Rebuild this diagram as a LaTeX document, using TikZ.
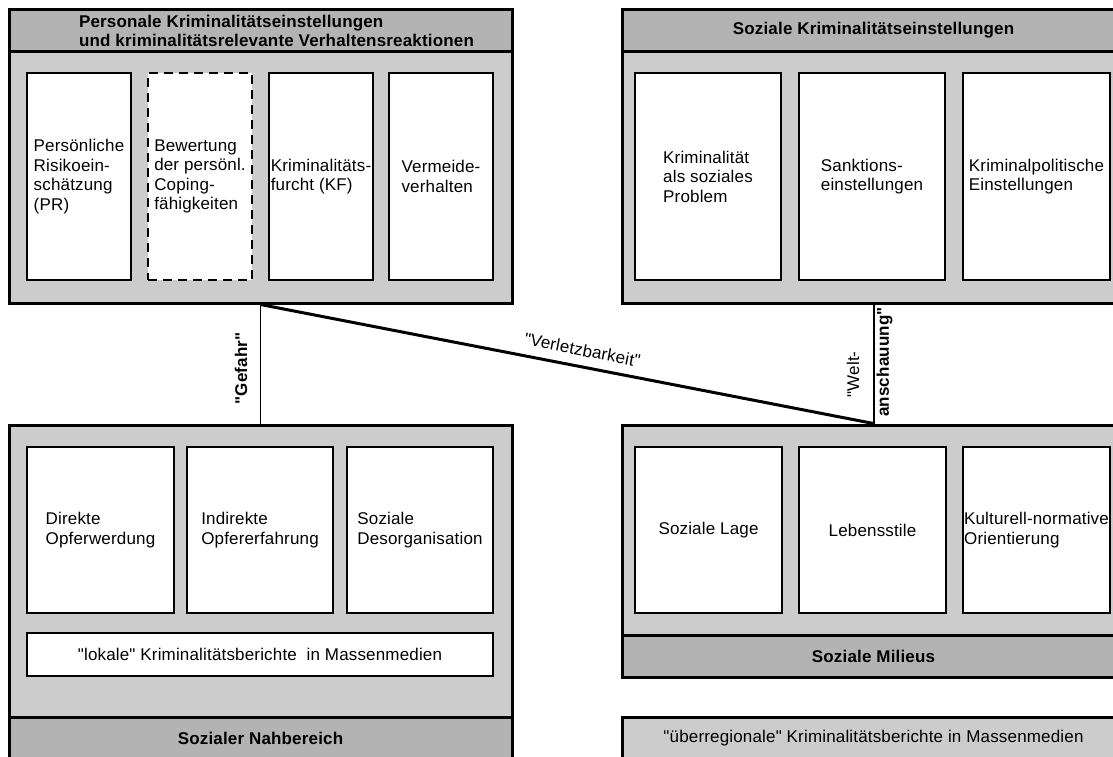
\documentclass[tikz,border=0pt]{standalone}
\usepackage{fontspec}
\setmainfont{Liberation Sans}[Ligatures=TeXOff, LetterSpace=1.0]
\definecolor{bodygray}{HTML}{CCCCCC}
\definecolor{headgray}{HTML}{B3B3B3}
\tikzset{
  base/.style={font=\fontsize{17}{19.5}\selectfont, inner sep=0pt},
  boldtext/.style={font=\fontsize{17}{19}\selectfont\bfseries},
  outerbox/.style={base, draw, line width=3pt, fill=bodygray},
  bandbox/.style={base, boldtext, draw, line width=3pt, fill=headgray},
  itembox/.style={base, draw, line width=2pt, fill=white, align=left},
  dashbox/.style={itembox, dash pattern=on 9pt off 6pt},
  lbl/.style={base},
  boldlbl/.style={base, boldtext},
}
\newcommand\rbox[7][]{\node[#1, minimum width={(#5-#3)*1pt}, minimum height={(#6-#4)*1pt}] (#2) at ({(#3+#5)/2},{(#4+#6)/2}) {#7};}
\begin{document}
\begin{tikzpicture}[x=1pt, y=-1pt]
\useasboundingbox (0,0) rectangle (1113,756);
\clip (0,0) rectangle (1113,756);
% top left
\rbox[outerbox]{tl}{9}{9}{512}{303}{}
\rbox[bandbox]{tlh}{9}{9}{512}{51}{}
\node[boldlbl, align=left] (tlht) at (276.5,30.5) {Personale Kriminalitätseinstellungen\\und kriminalitätsrelevante Verhaltensreaktionen};
\rbox[itembox]{pr}{27}{73}{131}{280}{Persönliche\\Risikoein-\\schätzung\\(PR)}
\rbox[dashbox]{cop}{148}{73}{252}{280}{Bewertung\\der persönl.\\Coping-\\fähigkeiten}
\rbox[itembox]{kf}{269}{73}{373}{280}{Kriminalitäts-\\furcht (KF)}
\rbox[itembox]{vm}{389}{73}{493}{280}{Vermeide-\\verhalten}
% top right
\rbox[outerbox]{tr}{622}{9}{1125}{303}{}
\rbox[bandbox]{trh}{622}{9}{1125}{51}{Soziale Kriminalitätseinstellungen}
\rbox[itembox]{ksp}{635}{73}{781}{280}{Kriminalität\\als soziales\\Problem}
\rbox[itembox]{san}{799}{73}{945}{280}{Sanktions-\\einstellungen}
\rbox[itembox]{kpe}{963}{73}{1110}{280}{Kriminalpolitische\\Einstellungen}
% bottom left
\rbox[outerbox]{bl}{9}{425}{512}{759}{}
\rbox[bandbox]{blf}{9}{717}{512}{759}{Sozialer Nahbereich}
\rbox[itembox]{dop}{27}{447}{174}{613}{Direkte\\Opferwerdung}
\rbox[itembox]{iop}{187}{447}{333}{613}{Indirekte\\Opfererfahrung}
\rbox[itembox]{sdo}{347}{447}{493}{613}{Soziale\\Desorganisation}
\rbox[itembox]{lok}{27}{633}{493}{676}{"lokale" Kriminalitätsberichte\ \ in Massenmedien}
% bottom right
\rbox[outerbox]{br}{622}{425}{1125}{677}{}
\rbox[bandbox]{brf}{622}{635}{1125}{677}{Soziale Milieus}
\rbox[itembox]{sl}{635}{447}{782}{613}{Soziale Lage}
\rbox[itembox]{ls}{799}{447}{946}{613}{Lebensstile}
\rbox[itembox]{kno}{963}{447}{1110}{613}{Kulturell-normative\\Orientierung}
% media box
\rbox[outerbox]{ueb}{622}{717}{1125}{759}{"überregionale" Kriminalitätsberichte in Massenmedien}
% connectors
\draw[line width=1.5pt] (tl.south) -- (bl.north);
\draw[line width=3pt] (tl.south) -- node[lbl, sloped, pos=0.52, above=9pt] (verl) {"Verletzbarkeit"} (br.north);
\draw[line width=2pt] (tr.south) -- (br.north);
% labels
\node[boldlbl, rotate=90] (gef) at (241,368.5) {"Gefahr"};
\node[lbl, rotate=90] (welt) at (853,374.5) {"Welt-};
\node[boldlbl, rotate=90] (ansch) at (884.5,362) {anschauung"};
\end{tikzpicture}
\end{document}
